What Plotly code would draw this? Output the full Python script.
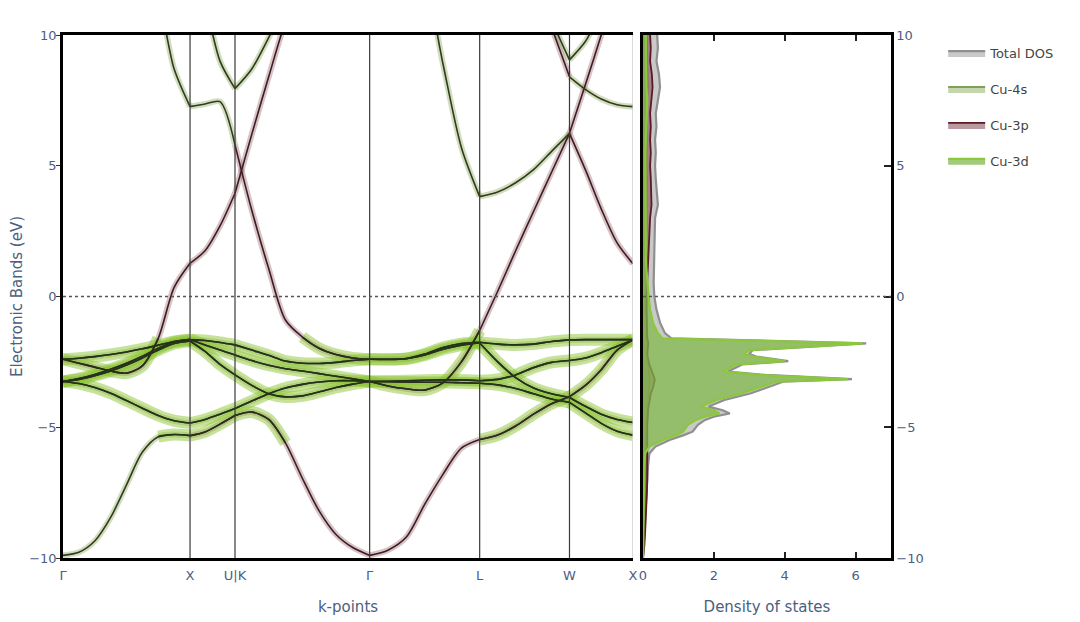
import plotly.graph_objects as go

# ---------------- k-path (reduced units) ----------------
K = [0.000, 0.125, 0.250, 0.375, 0.500, 0.625, 0.750, 0.875, 1.000,
     1.118, 1.236, 1.354,
     1.486, 1.619, 1.751, 1.884, 2.016, 2.149, 2.281, 2.414,
     2.558, 2.703, 2.847, 2.991, 3.136, 3.280,
     3.422, 3.563, 3.704, 3.846, 3.987,
     4.112, 4.237, 4.362, 4.487]
SEG_BOUNDS = [0, 8, 11, 19, 25, 30, 34]
K_LABELS = ["Γ", "X", "U|K", "Γ", "L", "W", "X"]

# ---------------- band energies (eV) ----------------
BAND_A = [-9.90, -9.78, -9.35, -8.45, -7.20, -5.95, -5.36, -5.28, -5.32,
          -5.18, -4.88, -4.55,
          -4.42, -4.70, -5.60, -6.95, -8.20, -9.10, -9.60, -9.90,
          -9.70, -9.20, -7.95, -6.80, -5.80, -5.47,
          -5.30, -4.95, -4.50, -4.10, -3.83,
          -3.40, -2.80, -2.05, -1.66]
BAND_B = [-3.25, -3.33, -3.48, -3.70, -3.98, -4.27, -4.55, -4.75, -4.84,
          -4.70, -4.50, -4.28,
          -4.00, -3.72, -3.50, -3.36, -3.27, -3.22, -3.22, -3.25,
          -3.26, -3.27, -3.28, -3.28, -3.30, -3.32,
          -3.38, -3.52, -3.72, -3.92, -4.05,
          -4.45, -4.85, -5.15, -5.30]
BAND_C = [-3.25, -3.17, -3.03, -2.85, -2.62, -2.35, -2.05, -1.80, -1.70,
          -2.10, -2.60, -3.00,
          -3.40, -3.72, -3.84, -3.80, -3.65, -3.48, -3.35, -3.25,
          -3.24, -3.22, -3.20, -3.19, -3.19, -3.22,
          -3.17, -3.00, -2.72, -2.52, -2.45,
          -2.35, -2.15, -1.90, -1.66]
BAND_D = [-2.40, -2.36, -2.30, -2.22, -2.12, -2.00, -1.86, -1.72, -1.64,
          -1.85, -2.05, -2.24,
          -2.45, -2.63, -2.76, -2.85, -2.95, -3.05, -3.15, -3.25,
          -3.42, -3.53, -3.58, -3.30, -2.50, -1.30,
          0.20, 1.75, 3.25, 4.75, 6.24,
          8.10, 10.00, 12.00, 13.50]
BAND_E = [-3.25, -3.14, -2.98, -2.78, -2.55, -2.28, -1.98, -1.74, -1.66,
          -1.68, -1.76, -1.85,
          -2.05, -2.25, -2.47, -2.55, -2.56, -2.52, -2.45, -2.40,
          -2.40, -2.37, -2.20, -1.95, -1.80, -1.75,
          -1.82, -1.85, -1.82, -1.72, -1.66,
          -1.65, -1.65, -1.65, -1.65]
BAND_F = [-2.40, -2.55, -2.70, -2.85, -2.93, -2.65, -1.60, 0.35, 1.27,
          1.75, 2.70, 3.95,
          6.20, 8.40, 10.50, 12.00, 13.00, 13.60, 14.00, 14.10,
          14.00, 13.80, 13.50, 13.20, 13.00, 12.90,
          13.00, 13.20, 13.50, 13.80, 14.00,
          14.00, 14.00, 14.00, 14.00]
BAND_G = [16.00, 15.00, 14.20, 13.50, 12.80, 12.20, 11.30, 8.70, 7.26,
          7.36, 7.45, 5.80,
          3.30, 1.07, -0.90, -1.55, -1.98, -2.22, -2.35, -2.40,
          -2.41, -2.38, -2.24, -2.02, -1.86, -1.78,
          -2.50, -3.10, -3.50, -3.72, -3.86,
          -4.20, -4.50, -4.70, -4.82]
BAND_H = [17.00, 16.80, 16.50, 16.00, 15.50, 15.00, 14.50, 14.00, 13.50,
          11.30, 9.00, 7.95,
          8.70, 9.90, 11.20, 12.50, 13.50, 14.20, 14.60, 14.80,
          15.00, 13.80, 12.30, 8.90, 5.70, 3.82,
          4.00, 4.35, 4.85, 5.55, 6.24,
          4.85, 3.35, 2.05, 1.25]
BAND_I = [18.00, 18.00, 18.00, 18.00, 18.00, 18.00, 18.00, 18.00, 18.00,
          17.50, 17.50, 17.50,
          17.00, 17.00, 17.00, 17.00, 17.00, 17.00, 17.00, 17.00,
          16.50, 16.00, 15.50, 15.00, 14.50, 14.00,
          14.00, 14.00, 12.30, 10.30, 8.40,
          7.92, 7.55, 7.33, 7.26]
BAND_J = [19.00, 19.00, 19.00, 19.00, 19.00, 19.00, 19.00, 19.00, 19.00,
          18.50, 18.50, 18.50,
          18.00, 18.00, 18.00, 18.00, 18.00, 18.00, 18.00, 18.00,
          17.50, 17.50, 17.50, 17.50, 17.50, 17.50,
          16.00, 14.50, 12.80, 10.60, 9.05,
          9.75, 10.90, 12.00, 13.00]

# ---------------- DOS ----------------
DOS_E = [10, 9.5, 9, 8.5, 8, 7.5, 7, 6.5, 6, 5.5,
         5, 4.5, 4, 3.5, 3, 2.5, 2, 1.5, 1, 0.5,
         0, -0.5, -1.0, -1.4, -1.6, -1.79, -2.05, -2.2, -2.3, -2.47,
         -2.6, -2.75, -2.87, -3.0, -3.16, -3.26, -3.5, -3.7, -3.96, -4.21,
         -4.35, -4.47, -4.6, -4.72, -4.91, -5.17, -5.3, -5.49, -5.74, -6.0,
         -6.5, -7, -7.5, -8, -8.5, -9, -9.5, -10]
DOS_TOTAL = [0.40, 0.42, 0.38, 0.45, 0.48, 0.42, 0.36, 0.38, 0.34, 0.36,
             0.34, 0.36, 0.38, 0.42, 0.34, 0.33, 0.32, 0.31, 0.30, 0.30,
             0.32, 0.38, 0.48, 0.62, 0.80, 6.30, 3.10, 3.00, 3.20, 4.10,
             2.80, 2.60, 2.40, 3.45, 5.90, 3.95, 3.45, 3.05, 2.30, 1.85,
             2.25, 2.45, 2.00, 1.75, 1.55, 1.40, 1.15, 0.75, 0.35, 0.18,
             0.14, 0.12, 0.11, 0.10, 0.08, 0.06, 0.04, 0.00]
DOS_S = [0.10, 0.11, 0.10, 0.12, 0.13, 0.11, 0.09, 0.10, 0.09, 0.10,
         0.09, 0.10, 0.10, 0.11, 0.09, 0.09, 0.08, 0.08, 0.08, 0.08,
         0.08, 0.09, 0.10, 0.11, 0.12, 0.14, 0.12, 0.12, 0.13, 0.14,
         0.15, 0.16, 0.17, 0.19, 0.20, 0.19, 0.17, 0.15, 0.13, 0.12,
         0.12, 0.12, 0.11, 0.11, 0.10, 0.10, 0.10, 0.09, 0.09, 0.08,
         0.08, 0.07, 0.07, 0.06, 0.05, 0.04, 0.03, 0.00]
DOS_P = [0.20, 0.22, 0.20, 0.25, 0.27, 0.24, 0.20, 0.22, 0.20, 0.22,
         0.20, 0.22, 0.22, 0.24, 0.20, 0.18, 0.17, 0.16, 0.14, 0.12,
         0.10, 0.10, 0.10, 0.10, 0.12, 0.15, 0.12, 0.12, 0.13, 0.15,
         0.18, 0.22, 0.25, 0.30, 0.33, 0.32, 0.28, 0.22, 0.18, 0.15,
         0.14, 0.14, 0.13, 0.13, 0.12, 0.12, 0.12, 0.12, 0.13, 0.14,
         0.13, 0.12, 0.11, 0.10, 0.08, 0.06, 0.04, 0.00]
DOS_D = [0.08, 0.08, 0.09, 0.10, 0.10, 0.12, 0.10, 0.08, 0.08, 0.07,
         0.07, 0.07, 0.08, 0.08, 0.07, 0.07, 0.08, 0.08, 0.10, 0.12,
         0.16, 0.20, 0.28, 0.42, 0.55, 6.20, 3.00, 2.85, 3.10, 4.00,
         2.65, 2.42, 2.25, 3.30, 5.78, 3.75, 3.20, 2.80, 2.07, 1.64,
         2.00, 2.16, 1.75, 1.50, 1.27, 1.13, 0.95, 0.56, 0.18, 0.06,
         0.04, 0.03, 0.03, 0.02, 0.02, 0.01, 0.01, 0.00]

# ---------------- styles ----------------
D_HALO = "rgba(138,196,46,0.48)"
D_LINE = "#27301b"
THIN = {"p": ("rgba(125,55,70,0.30)", "#3b1d23"),
        "s": ("rgba(112,150,52,0.32)", "#2f3b1d")}
D_WINDOW = (-5.7, -1.25)

BANDS = [
    (BAND_A, "spppp" + "p"),
    (BAND_B, "ssssss"),
    (BAND_C, "ssssss"),
    (BAND_D, "ssspp" + "p"),
    (BAND_E, "ssssss"),
    (BAND_F, "pppppp"),
    (BAND_G, "ssps" + "ss"),
    (BAND_H, "sssss" + "p"),
    (BAND_I, "ssss" + "ps"),
    (BAND_J, "ssssss"),
]


def series(vals, keep):
    xs, ys = [], []
    for s in range(len(SEG_BOUNDS) - 1):
        for i in range(SEG_BOUNDS[s], SEG_BOUNDS[s + 1] + 1):
            xs.append(K[i])
            ys.append(vals[i] if keep(s, vals[i]) else None)
        xs.append(None)
        ys.append(None)
    return xs, ys


def in_d(e):
    return D_WINDOW[0] <= e <= D_WINDOW[1]


fig = go.Figure()
halo_traces, thick_traces, line_traces, dline_traces = [], [], [], []
for vals, chars in BANDS:
    for c in ("p", "s"):
        xs, ys = series(vals, lambda s, e, c=c: chars[s] == c)
        if all(y is None for y in ys):
            continue
        halo_traces.append(go.Scatter(x=xs, y=ys, mode="lines", showlegend=False, hoverinfo="skip",
                                      line=dict(color=THIN[c][0], width=6, shape="spline", smoothing=0.8)))
        line_traces.append(go.Scatter(x=xs, y=ys, mode="lines", showlegend=False, hoverinfo="skip",
                                      line=dict(color=THIN[c][1], width=1.6, shape="spline", smoothing=0.8)))
    xs, ys = series(vals, lambda s, e: in_d(e))
    thick_traces.append(go.Scatter(x=xs, y=ys, mode="lines", showlegend=False, hoverinfo="skip",
                                   line=dict(color=D_HALO, width=12, shape="spline", smoothing=0.8)))
    dline_traces.append(go.Scatter(x=xs, y=ys, mode="lines", showlegend=False, hoverinfo="skip",
                                   line=dict(color=D_LINE, width=1.6, shape="spline", smoothing=0.8)))

for t in halo_traces + thick_traces + line_traces + dline_traces:
    fig.add_trace(t)

# DOS traces
dos_specs = [
    ("Total DOS", DOS_TOTAL, "rgba(165,165,165,0.60)", "#8f8f8f", 2.2),
    ("Cu-4s", DOS_S, "rgba(150,178,110,0.55)", "#7fa052", 1.8),
    ("Cu-3p", DOS_P, "rgba(130,70,80,0.55)", "#5a1a26", 1.8),
    ("Cu-3d", DOS_D, "rgba(130,184,76,0.75)", "#8cc83c", 2.2),
]
for name, vals, fc, lc, lw in dos_specs:
    fig.add_trace(go.Scatter(x=vals, y=DOS_E, xaxis="x2", yaxis="y2", mode="lines",
                             fill="tozerox", fillcolor=fc, line=dict(color=lc, width=lw),
                             name=name, legendgroup=name))

# vertical high-symmetry lines and Fermi level
shapes = []
for j, idx in enumerate(SEG_BOUNDS[1:]):
    last = j == len(SEG_BOUNDS) - 2
    shapes.append(dict(type="line", xref="x", yref="y", x0=K[idx], x1=K[idx], y0=-10, y1=10,
                       line=dict(color="#c4c4c4" if last else "#3a3a3a", width=1.2), layer="above"))
shapes.append(dict(type="line", xref="x", yref="y", x0=0, x1=K[-1], y0=0, y1=0,
                   line=dict(color="#555555", width=1.3, dash="dot"), layer="above"))
shapes.append(dict(type="line", xref="x2", yref="y2", x0=0, x1=7, y0=0, y1=0,
                   line=dict(color="#555555", width=1.3, dash="dot"), layer="above"))

AX_FONT = dict(family="DejaVu Sans", size=13, color="#4d5e80")
TITLE_FONT = dict(family="DejaVu Sans", size=15, color="#4d5e80")

fig.update_layout(
    width=1072, height=614,
    margin=dict(l=55, r=189, t=27, b=64, autoexpand=False),
    plot_bgcolor="white", paper_bgcolor="white",
    font=dict(family="DejaVu Sans", size=13, color="#4d5e80"),
    shapes=shapes,
    showlegend=True,
    legend=dict(x=1.063, y=0.994, xanchor="left", yanchor="top",
                font=dict(family="DejaVu Sans", size=13, color="#444444"),
                itemwidth=37, tracegroupgap=16, bgcolor="rgba(0,0,0,0)"),
    xaxis=dict(domain=[0, 0.6884], range=[0, K[-1]], tickmode="array",
               tickvals=[K[i] for i in SEG_BOUNDS], ticktext=K_LABELS, ticks="",
               showline=True, linecolor="black", linewidth=2.5, mirror=True,
               showgrid=False, zeroline=False, tickfont=AX_FONT, automargin=False,
               ticklabelstandoff=4,
               title=dict(text="k-points", font=TITLE_FONT, standoff=20)),
    yaxis=dict(range=[-10, 10], tickvals=[-10, -5, 0, 5, 10], ticks="outside", ticklen=4,
               tickcolor="#333", showline=True, linecolor="black", linewidth=2.5,
               showgrid=False, zeroline=False, tickfont=AX_FONT, automargin=False,
               ticklabelstandoff=-3,
               title=dict(text="Electronic Bands (eV)", font=TITLE_FONT, standoff=4)),
    xaxis2=dict(domain=[0.7005, 1], anchor="y2", range=[0, 7], tickvals=[0, 2, 4, 6],
                ticks="inside", ticklen=6, tickwidth=2, tickcolor="#222", mirror="allticks",
                showline=True, linecolor="black", linewidth=2.5, automargin=False,
                showgrid=False, zeroline=False, tickfont=AX_FONT, ticklabelstandoff=4,
                title=dict(text="Density of states", font=TITLE_FONT, standoff=20)),
    yaxis2=dict(anchor="x2", side="right", range=[-10, 10], tickvals=[-10, -5, 0, 5, 10],
                ticks="inside", ticklen=7, tickwidth=1.5, tickcolor="#222", mirror=True,
                showline=True, linecolor="black", linewidth=2.5, automargin=False,
                showgrid=False, zeroline=False, tickfont=AX_FONT),
)

fig.write_html("out.html")
